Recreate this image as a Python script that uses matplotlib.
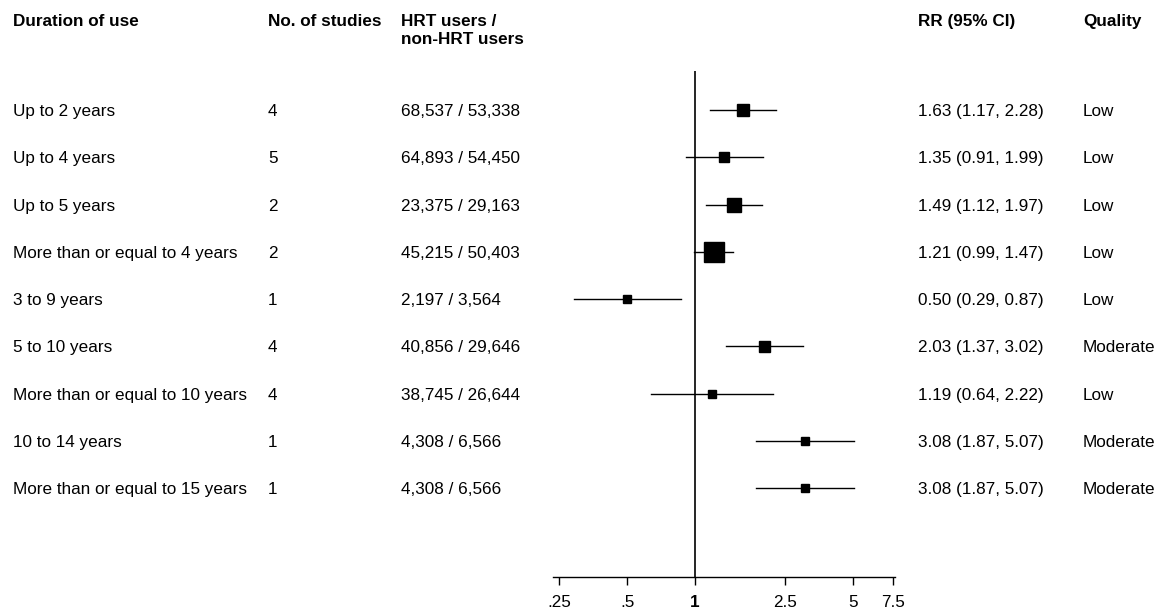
import matplotlib
matplotlib.use("Agg")
import matplotlib.pyplot as plt
import matplotlib.transforms as mtransforms

plt.rcParams['font.family'] = ['Liberation Sans', 'DejaVu Sans']

# data
durations = ["Up to 2 years", "Up to 4 years", "Up to 5 years",
             "More than or equal to 4 years", "3 to 9 years", "5 to 10 years",
             "More than or equal to 10 years", "10 to 14 years",
             "More than or equal to 15 years"]
n_studies = [4, 5, 2, 2, 1, 4, 4, 1, 1]
users = ["68,537 / 53,338", "64,893 / 54,450", "23,375 / 29,163",
         "45,215 / 50,403", "2,197 / 3,564", "40,856 / 29,646",
         "38,745 / 26,644", "4,308 / 6,566", "4,308 / 6,566"]
rr = [1.63, 1.35, 1.49, 1.21, 0.50, 2.03, 1.19, 3.08, 3.08]
ci_low = [1.17, 0.91, 1.12, 0.99, 0.29, 1.37, 0.64, 1.87, 1.87]
ci_high = [2.28, 1.99, 1.97, 1.47, 0.87, 3.02, 2.22, 5.07, 5.07]
quality = ["Low", "Low", "Low", "Low", "Low", "Moderate", "Low",
           "Moderate", "Moderate"]
weights = [12.3, 10.7, 14.7, 20.0, 8.3, 11.0, 8.0, 8.7, 8.7]  # box size, px

tick_vals = [0.25, 0.5, 1, 2.5, 5, 7.5]
tick_labels = [".25", ".5", "1", "2.5", "5", "7.5"]

W, H = 1162, 614
fig = plt.figure(figsize=(W / 100, H / 100), dpi=100)

# forest axes: x from 553 to 895 px, y from 71 to 577 px
ax = fig.add_axes([553 / W, 1 - 577 / H, (895 - 553) / W, (577 - 71) / H])
ax.set_xscale('log')
ax.set_xlim(0.2351, 7.68)
ax.set_ylim(9.88, -0.825)

fs = 12.3
for s in ['top', 'right', 'left']:
    ax.spines[s].set_visible(False)
ax.spines['bottom'].set_linewidth(1.0)
ax.set_yticks([])
ax.set_xticks(tick_vals)
ax.set_xticklabels(tick_labels, fontsize=fs)
ax.xaxis.set_minor_locator(matplotlib.ticker.NullLocator())
ax.tick_params(axis='x', direction='out', length=6, width=1, pad=7)
ax.get_xticklabels()[2].set_fontweight('bold')

ax.axvline(1, color='black', lw=1.2)

rows = list(range(len(durations)))
for i in rows:
    ax.plot([ci_low[i], ci_high[i]], [i, i], color='black', lw=1)
    ax.plot(rr[i], i, marker='s', color='black', linestyle='none',
            markersize=weights[i] * 0.72)

# text columns
trans = mtransforms.blended_transform_factory(fig.transFigure, ax.transData)
cols = [13, 268, 401, 918, 1083]
for i in rows:
    cells = [durations[i], str(n_studies[i]), users[i],
             "%.2f (%.2f, %.2f)" % (rr[i], ci_low[i], ci_high[i]), quality[i]]
    for x, c in zip(cols, cells):
        ax.text(x / W, i, c, transform=trans, fontsize=fs,
                va='center_baseline', ha='left', clip_on=False)

headers = ["Duration of use", "No. of studies", "HRT users /",
           "RR (95% CI)", "Quality"]
for x, h in zip(cols, headers):
    fig.text(x / W, 1 - 20 / H, h, fontsize=fs, fontweight='bold',
             va='center_baseline', ha='left')
fig.text(cols[2] / W, 1 - 38 / H, "non-HRT users", fontsize=fs,
         fontweight='bold', va='center_baseline', ha='left')

fig.savefig("out.png", dpi=100)
